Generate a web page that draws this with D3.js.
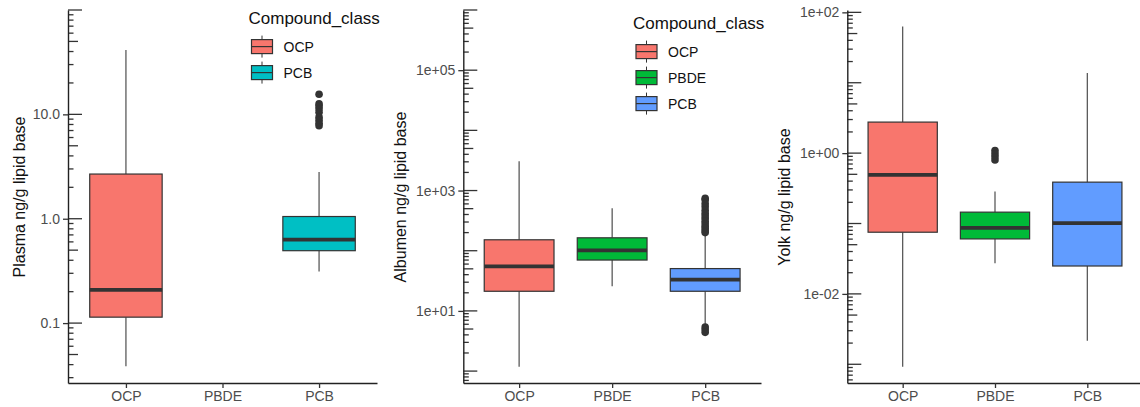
<!DOCTYPE html>
<html>
<head>
<meta charset="utf-8">
<script src="https://cdn.jsdelivr.net/npm/d3@7"></script>
<style>
  body { margin: 0; background: #fff; }
  svg { display: block; font-family: "Liberation Sans", Arial, sans-serif; }
</style>
</head>
<body>
<svg id="chart" width="1140" height="407"></svg>
<script>
const categories = ['OCP', 'PBDE', 'PCB'];

// plasma panel (no PBDE)
const plasmaGroups = ['OCP', 'PCB'];
const plasmaColours = ['#F8766D', '#00BFC4'];
const plasmaLower = [0.0386, 0.313];
const plasmaQ1 = [0.114, 0.494];
const plasmaMedian = [0.208, 0.63];
const plasmaQ3 = [2.68, 1.05];
const plasmaUpper = [41.4, 2.8];
const plasmaOutliers = [[], [15.6, 12.6, 12.0, 11.3, 10.5, 9.4, 8.8, 8.2, 7.8]];
const plasmaTicks = [0.1, 1, 10];
const plasmaTickLabels = ['0.1', '1.0', '10.0'];

// albumen panel
const albumenGroups = ['OCP', 'PBDE', 'PCB'];
const albumenColours = ['#F8766D', '#00BA38', '#619CFF'];
const albumenLower = [1.18, 25.6, 6.0];
const albumenQ1 = [21.2, 70, 21.2];
const albumenMedian = [55, 101, 33.1];
const albumenQ3 = [152, 164, 50.5];
const albumenUpper = [3060, 509, 185];
const albumenOutliers = [[], [], [740, 700, 610, 540, 470, 420, 380, 345, 310, 280, 255, 235, 215, 200, 5.4, 4.9, 4.4]];
const albumenTicks = [10, 1000, 100000];
const albumenTickLabels = ['1e+01', '1e+03', '1e+05'];

// yolk panel
const yolkGroups = ['OCP', 'PBDE', 'PCB'];
const yolkColours = ['#F8766D', '#00BA38', '#619CFF'];
const yolkLower = [0.00092, 0.0272, 0.00216];
const yolkQ1 = [0.0752, 0.0604, 0.0249];
const yolkMedian = [0.491, 0.0866, 0.101];
const yolkQ3 = [2.76, 0.145, 0.387];
const yolkUpper = [63.2, 0.284, 13.7];
const yolkOutliers = [[], [1.09, 0.98, 0.89, 0.8], []];
const yolkTicks = [0.01, 1, 100];
const yolkTickLabels = ['1e-02', '1e+00', '1e+02'];

const svg = d3.select('#chart');
const panelTop = 10, panelBottom = 383;

function drawPanel(p) {
  const g = svg.append('g');
  const x = d3.scalePoint().domain(categories).range([p.x0, p.x1]).padding(0.6);
  const y = d3.scaleLog().domain(p.domain).range([panelBottom, panelTop]);
  const bw = x.step() * 0.75;

  // log ticks inside the panel
  const k0 = Math.floor(Math.log10(p.domain[0])), k1 = Math.ceil(Math.log10(p.domain[1]));
  for (let k = k0; k <= k1; k++) {
    for (let m = 1; m <= 9; m++) {
      const v = m * Math.pow(10, k);
      if (v < p.domain[0] || v > p.domain[1]) continue;
      const len = m === 1 ? 14 : (m === 5 ? 10 : 5.5);
      g.append('line')
        .attr('x1', p.x0).attr('x2', p.x0 + len)
        .attr('y1', y(v)).attr('y2', y(v))
        .attr('stroke', '#333').attr('stroke-width', 1.3);
    }
  }

  const yAxis = d3.axisLeft(y).tickValues(p.ticks)
    .tickFormat((d, i) => p.tickLabels[i])
    .tickSize(5).tickPadding(3).tickSizeOuter(0);
  const ya = g.append('g').attr('transform', `translate(${p.x0},0)`).call(yAxis);

  const xAxis = d3.axisBottom(x).tickSize(5).tickPadding(3).tickSizeOuter(0);
  const xa = g.append('g').attr('transform', `translate(0,${panelBottom})`).call(xAxis);

  [ya, xa].forEach(a => {
    a.select('.domain').attr('stroke', '#222').attr('stroke-width', 1.4);
    a.selectAll('.tick line').attr('stroke', '#333').attr('stroke-width', 1.3);
    a.selectAll('.tick text').attr('fill', '#4d4d4d').attr('font-size', 14)
      .attr('font-family', '"Liberation Sans", Arial, sans-serif');
  });

  // boxes
  p.groups.forEach((grp, i) => {
    const cx = x(grp);
    g.append('line').attr('x1', cx).attr('x2', cx)
      .attr('y1', y(p.upper[i])).attr('y2', y(p.q3[i]))
      .attr('stroke', '#4d4d4d').attr('stroke-width', 1.2);
    g.append('line').attr('x1', cx).attr('x2', cx)
      .attr('y1', y(p.q1[i])).attr('y2', y(p.lower[i]))
      .attr('stroke', '#4d4d4d').attr('stroke-width', 1.2);
    g.append('rect')
      .attr('x', cx - bw / 2).attr('y', y(p.q3[i]))
      .attr('width', bw).attr('height', y(p.q1[i]) - y(p.q3[i]))
      .attr('fill', p.colours[i]).attr('stroke', '#333').attr('stroke-width', 1.2);
    g.append('line').attr('x1', cx - bw / 2).attr('x2', cx + bw / 2)
      .attr('y1', y(p.median[i])).attr('y2', y(p.median[i]))
      .attr('stroke', '#333').attr('stroke-width', 3.8);
    g.selectAll(null).data(p.outliers[i]).enter().append('circle')
      .attr('cx', cx).attr('cy', d => y(d)).attr('r', 3.8).attr('fill', '#333');
  });

  // y title
  g.append('text')
    .attr('transform', `translate(${p.titleX},${p.titleY}) rotate(-90)`)
    .attr('text-anchor', 'middle').attr('font-size', 16).attr('fill', '#111')
    .text(p.yTitle);

  // legend
  if (p.legend) {
    const L = p.legend;
    g.append('text').attr('x', L.x - 3).attr('y', L.y)
      .attr('font-size', 17).attr('fill', '#111').text('Compound_class');
    p.groups.forEach((grp, i) => {
      const cy = L.y + 22.6 + i * 26;
      const kx = L.x + 10.5;
      g.append('line').attr('x1', kx).attr('x2', kx).attr('y1', cy - 11).attr('y2', cy + 11)
        .attr('stroke', '#333').attr('stroke-width', 1);
      g.append('rect').attr('x', L.x).attr('y', cy - 7).attr('width', 21).attr('height', 14)
        .attr('fill', p.colours[i]).attr('stroke', '#333').attr('stroke-width', 1.2);
      g.append('line').attr('x1', L.x).attr('x2', L.x + 21).attr('y1', cy).attr('y2', cy)
        .attr('stroke', '#333').attr('stroke-width', 1.2);
      g.append('text').attr('x', L.x + 32).attr('y', cy + 5)
        .attr('font-size', 14).attr('fill', '#111').text(grp);
    });
  }
}

drawPanel({
  x0: 68, x1: 377, domain: [0.02667, 100],
  groups: plasmaGroups, colours: plasmaColours,
  lower: plasmaLower, q1: plasmaQ1, median: plasmaMedian, q3: plasmaQ3, upper: plasmaUpper,
  outliers: plasmaOutliers, ticks: plasmaTicks, tickLabels: plasmaTickLabels,
  yTitle: 'Plasma ng/g lipid base', titleX: 25, titleY: 197,
  legend: { x: 251.5, y: 24 }
});

drawPanel({
  x0: 463.3, x1: 761, domain: [0.634, 1e6],
  groups: albumenGroups, colours: albumenColours,
  lower: albumenLower, q1: albumenQ1, median: albumenMedian, q3: albumenQ3, upper: albumenUpper,
  outliers: albumenOutliers, ticks: albumenTicks, tickLabels: albumenTickLabels,
  yTitle: 'Albumen ng/g lipid base', titleX: 406, titleY: 197,
  legend: { x: 636, y: 29 }
});

drawPanel({
  x0: 847.3, x1: 1142.7, domain: [0.000542, 108],
  groups: yolkGroups, colours: yolkColours,
  lower: yolkLower, q1: yolkQ1, median: yolkMedian, q3: yolkQ3, upper: yolkUpper,
  outliers: yolkOutliers, ticks: yolkTicks, tickLabels: yolkTickLabels,
  yTitle: 'Yolk ng/g lipid base', titleX: 790, titleY: 197
});
</script>
</body>
</html>
